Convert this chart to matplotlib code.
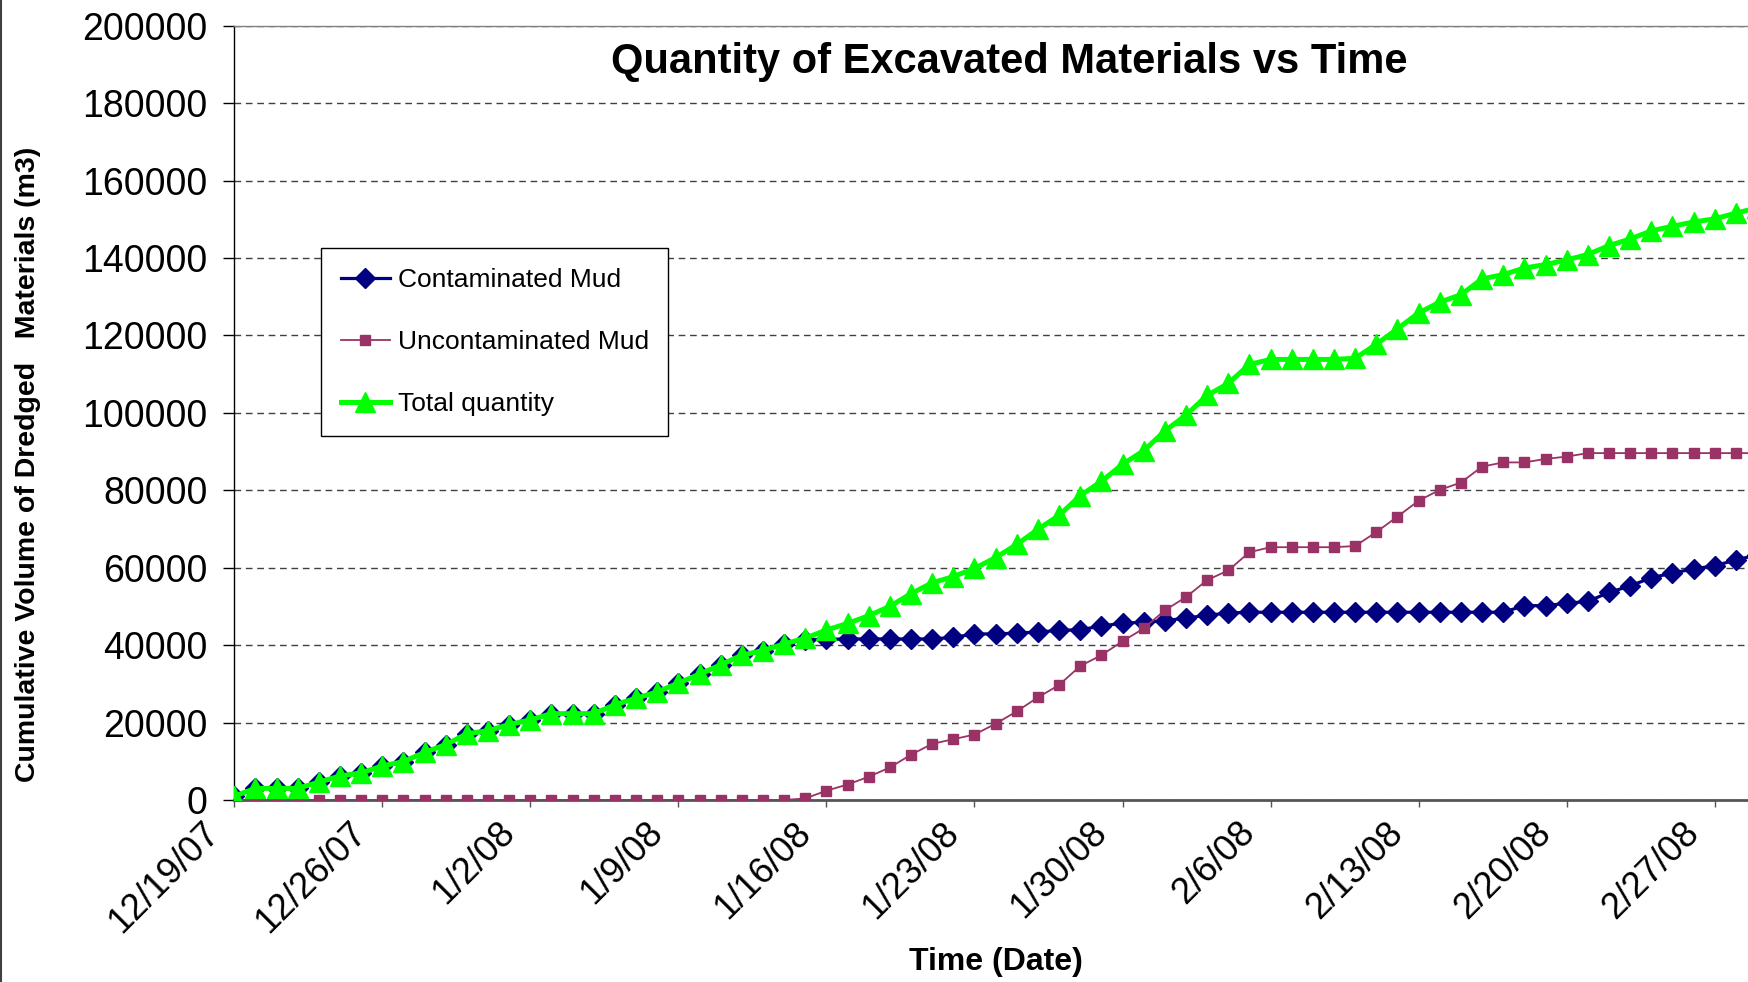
import matplotlib
matplotlib.use('Agg')
import matplotlib.pyplot as plt
import pandas as pd
from matplotlib.lines import Line2D
from matplotlib.transforms import ScaledTranslation

plt.rcParams['font.family'] = ['Liberation Sans', 'DejaVu Sans']

# ---------------- data (daily cumulative volumes, m3) ----------------
start_date = '2007-12-19'

contaminated = [
    1000, 3000, 3000, 3000, 4600, 6200, 7000, 8800, 9900, 12300,
    14300, 17100, 17900, 19500, 20700, 22300, 22300, 22300, 24600, 26300,
    27900, 30200, 32500, 34900, 37400, 38600, 40300, 41400, 41500, 41600,
    41600, 41600, 41600, 41600, 42000, 42900, 42900, 43100, 43400, 43800,
    44000, 44900, 45700, 45900, 46300, 47000, 47700, 48300, 48500, 48500,
    48500, 48500, 48500, 48500, 48500, 48500, 48500, 48500, 48500, 48500,
    48500, 50200, 50200, 50800, 51300, 53600, 55300, 57400, 58600, 59700,
    60500, 62000, 63300]

uncontaminated = [
    0, 0, 0, 0, 0, 0, 0, 0, 0, 0,
    0, 0, 0, 0, 0, 0, 0, 0, 0, 0,
    0, 0, 0, 0, 0, 0, 0, 400, 2400, 4000,
    6000, 8400, 11700, 14500, 15700, 16900, 19700, 22900, 26500, 29700,
    34600, 37400, 41000, 44300, 49000, 52400, 56800, 59300, 64000, 65300,
    65300, 65300, 65300, 65600, 69200, 73200, 77300, 80100, 82000, 86100,
    87200, 87200, 88100, 88700, 89600, 89600, 89600, 89600, 89600, 89600,
    89600, 89600, 89600]

total = [
    1000, 3000, 3000, 3000, 4600, 6200, 7000, 8800, 9900, 12300,
    14300, 17100, 17900, 19500, 20700, 22300, 22300, 22300, 24600, 26300,
    27900, 30200, 32500, 34900, 37400, 38600, 40300, 41800, 43900, 45600,
    47600, 50000, 53300, 56100, 57700, 59800, 62600, 66000, 69900, 73500,
    78600, 82300, 86700, 90200, 95300, 99400, 104500, 107600, 112500, 113800,
    113800, 113800, 113800, 114100, 117700, 121700, 125800, 128600, 130500, 134600,
    135700, 137400, 138300, 139500, 140900, 143200, 144900, 147000, 148200, 149300,
    150100, 151600, 152900]

x_tick_labels = ['12/19/07', '12/26/07', '1/2/08', '1/9/08', '1/16/08', '1/23/08',
                 '1/30/08', '2/6/08', '2/13/08', '2/20/08', '2/27/08']
y_ticks = [0, 20000, 40000, 60000, 80000, 100000, 120000, 140000, 160000, 180000, 200000]

series_names = ['Contaminated Mud', 'Uncontaminated Mud', 'Total quantity']

# ---------------- figure ----------------
W, H = 1749, 982
fig = plt.figure(figsize=(W / 100, H / 100), dpi=100)

left_px, bottom_px, top_px = 234.2, 800.0, 25.7
px_per_day = 21.15
span_days = 73
ax = fig.add_axes([left_px / W, 1 - bottom_px / H,
                   span_days * px_per_day / W, (bottom_px - top_px) / H])

dates = pd.date_range(start_date, periods=len(total), freq='D').to_pydatetime()
t0 = pd.Timestamp(start_date).to_pydatetime()
t1 = (pd.Timestamp(start_date) + pd.Timedelta(days=span_days)).to_pydatetime()

ax.plot(dates, contaminated, color='#000080', lw=2.3, marker='D', ms=10,
        mec='#000080', mfc='#000080', label=series_names[0], zorder=3)
ax.plot(dates, uncontaminated, color='#993366', lw=1.3, marker='s', ms=7,
        mec='#993366', mfc='#993366', label=series_names[1], zorder=4)
ax.plot(dates, total, color='#00FF00', lw=3.6, marker='^', ms=15,
        mec='#00FF00', mfc='#00FF00', label=series_names[2], zorder=5)

ax.set_xlim(t0, t1)
ax.set_ylim(0, 200000)
ax.set_yticks(y_ticks)
ax.set_yticklabels([str(v) for v in y_ticks])
ax.set_xticks(list(dates[::7][:len(x_tick_labels)]))
ax.set_xticklabels(x_tick_labels)

ax.yaxis.grid(True, linestyle=(0, (4.8, 3.4)), color='#404040', lw=1.0)
ax.xaxis.grid(False)
ax.set_axisbelow(True)

ax.spines['right'].set_visible(False)
ax.spines['left'].set_color('black')
ax.spines['left'].set_linewidth(1.0)
ax.spines['bottom'].set_color('#555555')
ax.spines['bottom'].set_linewidth(2.0)
ax.spines['top'].set_color('#808080')
ax.spines['top'].set_linewidth(1.0)

ax.tick_params(axis='y', direction='out', length=8, width=1, color='black',
               labelsize=27, pad=11)
ax.tick_params(axis='x', direction='out', length=5, width=1, color='#555555',
               labelsize=26, pad=6)

offset = ScaledTranslation(-0.33, 0, fig.dpi_scale_trans)
for lbl in ax.get_xticklabels():
    lbl.set_rotation(45)
    lbl.set_ha('right')
    lbl.set_va('top')
    lbl.set_rotation_mode('anchor')
    lbl.set_transform(lbl.get_transform() + offset)

leg = ax.legend(loc='upper left', bbox_to_anchor=(321 / W, 1 - 248 / H),
                bbox_transform=fig.transFigure, borderaxespad=0,
                frameon=True, fancybox=False, framealpha=1, edgecolor='black',
                fontsize=19, handlelength=1.85, handletextpad=0.3,
                labelspacing=1.45, borderpad=0.75, numpoints=1)
leg.get_frame().set_linewidth(1.0)
leg.set_zorder(10)

fig.text(1009.5 / W, 1 - 62 / H, 'Quantity of Excavated Materials vs Time',
         ha='center', va='center', fontsize=30, fontweight='bold')
fig.text(995.5 / W, 1 - 962 / H, 'Time (Date)', ha='center', va='center',
         fontsize=23, fontweight='bold')
fig.text(28 / W, 1 - 464 / H, 'Cumulative Volume of Dredged   Materials (m3)',
         ha='center', va='center', rotation=90, fontsize=20.5, fontweight='bold')

fig.add_artist(Line2D([0.6 / W, 0.6 / W], [0, 1], transform=fig.transFigure,
                      color='#404040', lw=1.5))

fig.savefig('out.png', dpi=100)
